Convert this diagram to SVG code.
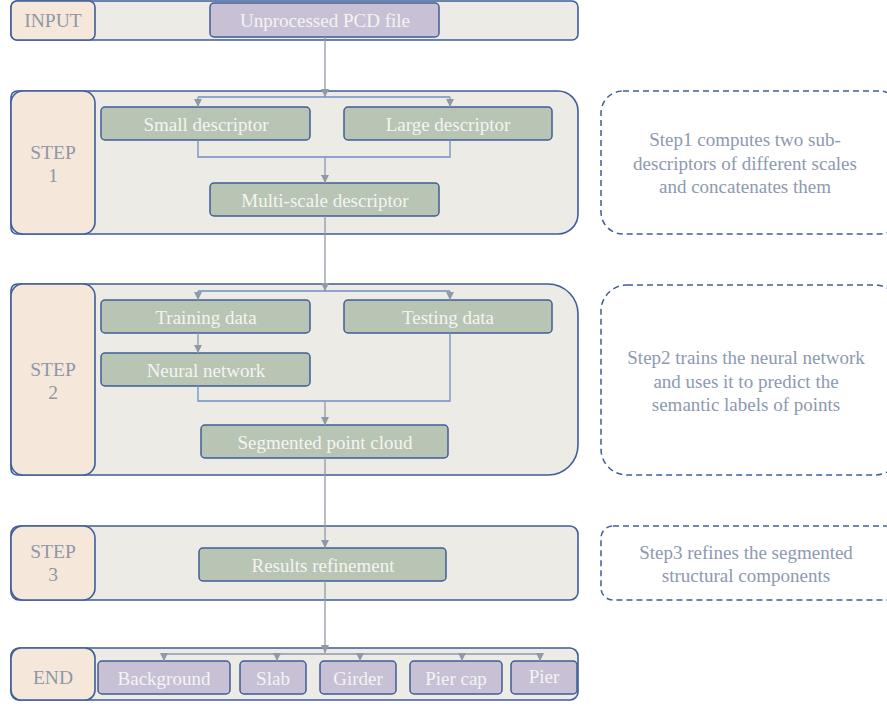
<svg xmlns="http://www.w3.org/2000/svg" width="887" height="706" viewBox="0 0 887 706">
<style>
.cont{fill:#ecebe6;stroke:#3f5e98;stroke-width:1.6}
.lab{fill:#f5e8da;stroke:#3f5e98;stroke-width:1.6}
.g{fill:#b8c4b4;stroke:#3f5e98;stroke-width:1.5}
.p{fill:#c8c0d4;stroke:#3f5e98;stroke-width:1.5}
.note{fill:none;stroke:#3f5e98;stroke-width:1.5;stroke-dasharray:6 4}
text{font-family:'Liberation Serif','DejaVu Serif',serif;text-anchor:middle}
.lt{font-size:19.5px;fill:#8d97a8}
.nt{font-size:19px;fill:#f4f4f2}
.tt{font-size:19px;fill:#8d99b0}
.c{fill:none;stroke:#8e99aa;stroke-width:1.3}
.b{fill:none;stroke:#6f8fc8;stroke-width:1.3}
</style>
<defs>
<marker id="ah" viewBox="0 0 10 10" refX="10" refY="5" markerWidth="8" markerHeight="8" markerUnits="userSpaceOnUse" orient="auto">
<path d="M0,0 L10,5 L0,10 z" fill="#8e99aa"/>
</marker>
</defs>

<g id="input">
<rect class="cont" x="11" y="1" width="567" height="39" rx="6"/>
<rect class="lab" x="11" y="1" width="84" height="39" rx="6"/>
<text class="lt" x="53" y="27">INPUT</text>
</g>
<g id="pcd">
<rect class="p" x="210" y="3" width="229" height="34" rx="4"/>
<text class="nt" x="325" y="27">Unprocessed PCD file</text>
</g>

<g id="step1">
<path class="cont" d="M17,91 H558 A20,20 0 0 1 578,111 V214 A20,20 0 0 1 558,234 H17 A6,6 0 0 1 11,228 V97 A6,6 0 0 1 17,91 Z"/>
<rect class="lab" x="11" y="91" width="84" height="143" rx="12"/>
<text class="lt" x="53" y="159">STEP</text>
<text class="lt" x="53" y="182">1</text>
</g>
<g id="small"><rect class="g" x="101" y="107" width="209" height="33" rx="4"/><text class="nt" x="206" y="131">Small descriptor</text></g>
<g id="large"><rect class="g" x="344" y="107" width="208" height="33" rx="4"/><text class="nt" x="448" y="131">Large descriptor</text></g>
<g id="multi"><rect class="g" x="210" y="183" width="229" height="33" rx="4"/><text class="nt" x="325" y="207">Multi-scale descriptor</text></g>

<g id="step2">
<path class="cont" d="M17,284 H548 A30,30 0 0 1 578,314 V445 A30,30 0 0 1 548,475 H17 A6,6 0 0 1 11,469 V290 A6,6 0 0 1 17,284 Z"/>
<rect class="lab" x="11" y="284" width="84" height="191" rx="12"/>
<text class="lt" x="53" y="376">STEP</text>
<text class="lt" x="53" y="399">2</text>
</g>
<g id="train"><rect class="g" x="101" y="300" width="209" height="33" rx="4"/><text class="nt" x="206" y="324">Training data</text></g>
<g id="test"><rect class="g" x="344" y="300" width="208" height="33" rx="4"/><text class="nt" x="448" y="324">Testing data</text></g>
<g id="nn"><rect class="g" x="101" y="353" width="209" height="33" rx="4"/><text class="nt" x="206" y="377">Neural network</text></g>
<g id="seg"><rect class="g" x="201" y="425" width="247" height="33" rx="4"/><text class="nt" x="325" y="449">Segmented point cloud</text></g>

<g id="step3">
<rect class="cont" x="11" y="526" width="567" height="74" rx="8"/>
<rect class="lab" x="11" y="526" width="84" height="74" rx="12"/>
<text class="lt" x="53" y="558">STEP</text>
<text class="lt" x="53" y="581">3</text>
</g>
<g id="refine"><rect class="g" x="199" y="548" width="247" height="33" rx="4"/><text class="nt" x="323" y="572">Results refinement</text></g>

<g id="end">
<rect class="cont" x="11" y="648" width="567" height="52" rx="8"/>
<rect class="lab" x="11" y="648" width="84" height="52" rx="10"/>
<text class="lt" x="53" y="684">END</text>
</g>
<g id="background"><rect class="p" x="98" y="661" width="132" height="33" rx="4"/><text class="nt" x="164" y="685">Background</text></g>
<g id="slab"><rect class="p" x="240" y="661" width="66" height="33" rx="4"/><text class="nt" x="273" y="685">Slab</text></g>
<g id="girder"><rect class="p" x="320" y="661" width="76" height="33" rx="4"/><text class="nt" x="358" y="685">Girder</text></g>
<g id="piercap"><rect class="p" x="410" y="661" width="92" height="33" rx="4"/><text class="nt" x="456" y="685">Pier cap</text></g>
<g id="pier"><rect class="p" x="511" y="661" width="66" height="33" rx="4"/><text class="nt" x="544" y="683">Pier</text></g>

<g id="note1">
<rect class="note" x="601" y="91" width="300" height="143" rx="22"/>
<text class="tt" x="745" y="146">Step1 computes two sub-</text>
<text class="tt" x="745" y="170">descriptors of different scales</text>
<text class="tt" x="745" y="193">and concatenates them</text>
</g>
<g id="note2">
<rect class="note" x="601" y="285" width="300" height="190" rx="26"/>
<text class="tt" x="746" y="364">Step2 trains the neural network</text>
<text class="tt" x="746" y="388">and uses it to predict the</text>
<text class="tt" x="746" y="411">semantic labels of points</text>
</g>
<g id="note3">
<rect class="note" x="601" y="526" width="300" height="74" rx="12"/>
<text class="tt" x="746" y="559">Step3 refines the segmented</text>
<text class="tt" x="746" y="582">structural components</text>
</g>

<g id="connectors">
<path class="c" d="M325,37 V97" marker-end="url(#ah)"/>
<path class="b" d="M198,97 H450"/>
<path class="c" d="M198,97 V107" marker-end="url(#ah)"/>
<path class="c" d="M450,97 V107" marker-end="url(#ah)"/>
<path class="b" d="M198,140 V157 H450 V140"/>
<path class="c" d="M325,157 V183" marker-end="url(#ah)"/>
<path class="c" d="M325,216 V291" marker-end="url(#ah)"/>
<path class="b" d="M198,291 H450"/>
<path class="c" d="M198,291 V300" marker-end="url(#ah)"/>
<path class="c" d="M450,291 V300" marker-end="url(#ah)"/>
<path class="c" d="M198,333 V353" marker-end="url(#ah)"/>
<path class="b" d="M198,386 V401 H450 V333"/>
<path class="c" d="M325,401 V425" marker-end="url(#ah)"/>
<path class="c" d="M325,458 V548" marker-end="url(#ah)"/>
<path class="c" d="M325,581 V653" marker-end="url(#ah)"/>
<path class="c" d="M164,654 H540"/>
<path class="c" d="M164,654 V661" marker-end="url(#ah)"/>
<path class="c" d="M277,654 V661" marker-end="url(#ah)"/>
<path class="c" d="M360,654 V661" marker-end="url(#ah)"/>
<path class="c" d="M462,654 V661" marker-end="url(#ah)"/>
<path class="c" d="M540,654 V661" marker-end="url(#ah)"/>
</g>
</svg>
